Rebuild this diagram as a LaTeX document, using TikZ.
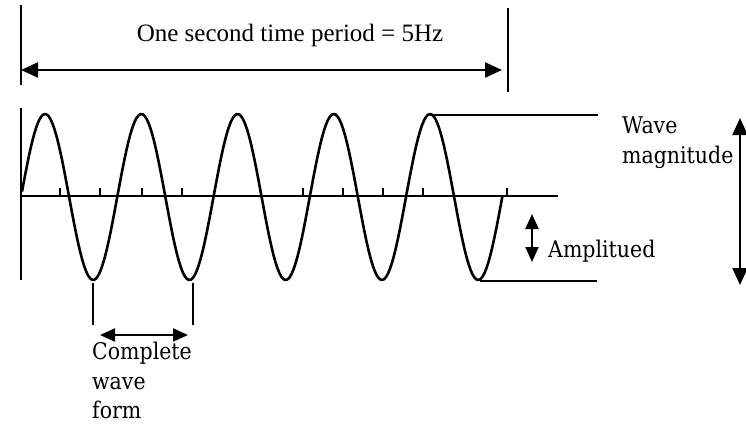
\documentclass[tikz,border=0pt]{standalone}
\usepackage{fontspec}
\setmainfont{Liberation Serif}
\newfontfamily\slabfont{DejaVu Serif}
\usepackage{graphicx}
\usetikzlibrary{arrows.meta}
\newcommand{\slabtxt}[1]{\scalebox{1}[1.12]{\slabfont\fontsize{20.5}{24}\selectfont #1}}
\begin{document}
\begin{tikzpicture}[x=1pt,y=-1pt,
  guide/.style={line width=1.6pt},
  axisline/.style={line width=2pt},
  waveline/.style={line width=2.6pt, line join=round},
  noise/.style={line width=1.3pt},
  bigarrow/.style={line width=2.3pt, {Triangle[length=17pt,width=15pt]}-{Triangle[length=17pt,width=15pt]}},
  smallarrow/.style={line width=2.2pt, {Triangle[length=15pt,width=13pt]}-{Triangle[length=15pt,width=13pt]}},
  lbl/.style={inner sep=0pt, anchor=base west}
]
\useasboundingbox (0,0) rectangle (746,425);

% top period marker
\coordinate (tl1) at (21,5);  \coordinate (tl2) at (21,85);
\coordinate (tr1) at (508,8); \coordinate (tr2) at (508,92);
\coordinate (pa) at (21,70);  \coordinate (pb) at (502,70);
\draw[guide] (tl1) -- (tl2);
\draw[guide] (tr1) -- (tr2);
\draw[bigarrow] (pa) -- (pb);
\node[inner sep=0pt, anchor=base, font=\fontsize{25}{30}\selectfont] (title) at (290,42) {One second time period = 5Hz};

% axes
\coordinate (ya) at (21,108); \coordinate (yb) at (21,280);
\coordinate (xa) at (21,196); \coordinate (xb) at (558,196);
\draw[axisline] (ya) -- (yb);
\draw[axisline] (xa) -- (xb);

% small noise ticks on the axis
\foreach \t in {60,100,142,182,303,343,383,423,507}
  \draw[noise] (\t,196) -- (\t,188);

% wave
\draw[waveline] plot[domain=22:502.5, samples=240] (\x, {197 - 83*sin(3.74026*(\x-21))});

% magnitude guides
\coordinate (pk) at (430,115); \coordinate (pkr) at (598,115);
\coordinate (tg) at (480,281); \coordinate (tgr) at (597,281);
\draw[guide] (pk) -- (pkr);
\draw[guide] (tg) -- (tgr);
\coordinate (m1) at (740,118); \coordinate (m2) at (740,285);
\draw[bigarrow] (m1) -- (m2);
\node[lbl] (wave1) at (622,133) {\slabtxt{Wave}};
\node[lbl] (wave2) at (622,163) {\slabtxt{magnitude}};

% amplitude
\coordinate (a1) at (532,214); \coordinate (a2) at (532,262);
\draw[smallarrow] (a1) -- (a2);
\node[lbl] (amp) at (548,257) {\slabtxt{Amplitued}};

% complete wave form
\coordinate (c1a) at (93,283);  \coordinate (c1b) at (93,325);
\coordinate (c2a) at (193,283); \coordinate (c2b) at (193,325);
\draw[guide] (c1a) -- (c1b);
\draw[guide] (c2a) -- (c2b);
\coordinate (ca) at (100,335); \coordinate (cb) at (188,335);
\draw[smallarrow] (ca) -- (cb);
\node[lbl] (cw1) at (92,359) {\slabtxt{Complete}};
\node[lbl] (cw2) at (92,389) {\slabtxt{wave}};
\node[lbl] (cw3) at (92,418) {\slabtxt{form}};
\end{tikzpicture}
\end{document}
